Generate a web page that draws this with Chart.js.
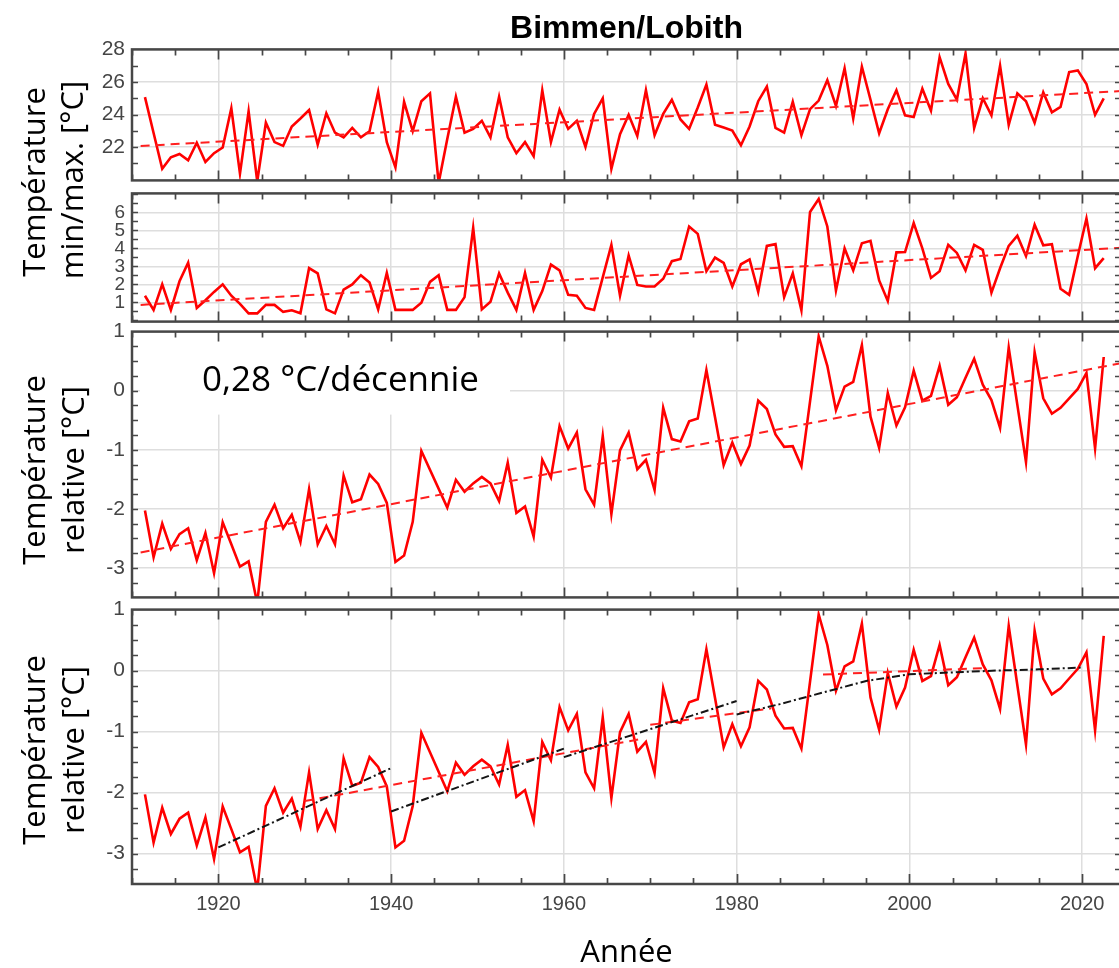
<!DOCTYPE html>
<html lang="fr">
<head>
<meta charset="utf-8">
<title>Bimmen/Lobith</title>
<script src="https://cdn.jsdelivr.net/npm/chart.js@4.4.1/dist/chart.umd.min.js"></script>
<style>
  html, body { margin: 0; padding: 0; background: #fff; overflow: hidden; }
  #wrap { position: relative; width: 1119px; height: 968px; overflow: hidden; }
  #wrap canvas { position: absolute; left: 0; }
  .ytitle { position: absolute; font-family: "Open Sans", sans-serif; font-size: 31px; color: #000;
            white-space: nowrap; line-height: 1; transform: translate(-50%, -50%) rotate(-90deg); }
  #slope { position: absolute; left: 202px; top: 360px; font-family: "Open Sans", sans-serif;
           font-size: 35px; color: #000; white-space: nowrap; line-height: 1; }
</style>
</head>
<body>
<div id="wrap">
  <canvas id="pMax" width="1130" height="200" style="top:0"></canvas>
  <canvas id="pMin" width="1130" height="165" style="top:175px"></canvas>
  <canvas id="pRel" width="1130" height="305" style="top:312px"></canvas>
  <canvas id="pSeg" width="1130" height="382" style="top:590px"></canvas>

  <div class="ytitle" style="left:33px; top:182px">Température</div>
  <div class="ytitle" style="left:71px; top:180px">min/max. [°C]</div>
  <div class="ytitle" style="left:33px; top:470px">Température</div>
  <div class="ytitle" style="left:72px; top:470px">relative [°C]</div>
  <div class="ytitle" style="left:33px; top:750px">Température</div>
  <div class="ytitle" style="left:72px; top:750px">relative [°C]</div>
  <div id="slope">0,28 °C/décennie</div>
</div>

<script>
// annual values 1911-2022
const firstYear = 1911;
const midYear = 0.5;

const tMax = [
  25.07, 22.87, 20.67, 21.38, 21.58, 21.19, 22.27, 21.09, 21.63, 21.98,
  24.39, 20.38, 24.2, 19.9, 23.5, 22.31, 22.08, 23.27, 23.76, 24.28,
  22.15, 24.08, 22.89, 22.6, 23.18, 22.6, 22.98, 25.4, 22.31, 20.76,
  24.78, 22.98, 24.82, 25.3, 19.8, 22.5, 25.1, 22.89, 23.12, 23.62,
  22.6, 25.1, 22.6, 21.63, 22.31, 21.44, 25.49, 22.31, 24.3, 23.12,
  23.62, 22.02, 24.04, 25.0, 20.67, 22.79, 23.99, 22.69, 25.49, 22.73,
  24.04, 24.91, 23.7, 23.12, 24.43, 25.84, 23.37, 23.2, 23.02, 22.12,
  23.27, 24.82, 25.72, 23.18, 22.89, 24.78, 22.73, 24.33, 24.86, 26.11,
  24.53, 26.84, 23.76, 26.94, 24.91, 22.85, 24.33, 25.49, 23.95, 23.85,
  25.59, 24.24, 27.52, 25.88, 24.91, 27.75, 23.18, 25.0, 23.95, 27.0,
  23.37, 25.3, 24.82, 23.5, 25.36, 24.14, 24.47, 26.61, 26.71, 25.88,
  23.99, 25.0
];

const tMin = [
  1.37, 0.58, 2.0, 0.58, 2.17, 3.2, 0.69, 1.12, 1.58, 2.0,
  1.37, 0.92, 0.39, 0.39, 0.86, 0.86, 0.47, 0.56, 0.39, 2.9,
  2.61, 0.61, 0.39, 1.71, 2.0, 2.51, 2.1, 0.61, 2.64, 0.58,
  0.58, 0.58, 0.98, 2.14, 2.51, 0.58, 0.58, 1.29, 5.15, 0.61,
  1.03, 2.61, 1.54, 0.58, 2.64, 0.58, 1.63, 3.1, 2.78, 1.42,
  1.37, 0.69, 0.58, 2.39, 4.2, 1.37, 3.61, 1.97, 1.88, 1.88,
  2.31, 3.29, 3.41, 5.22, 4.81, 2.73, 3.49, 3.2, 1.88, 3.12,
  3.39, 1.58, 4.14, 4.24, 1.29, 2.61, 0.56, 6.03, 6.75, 5.22,
  1.66, 4.0, 2.78, 4.29, 4.42, 2.22, 1.08, 3.78, 3.8, 5.41,
  4.0, 2.36, 2.73, 4.2, 3.75, 2.78, 4.2, 3.92, 1.54, 2.9,
  4.14, 4.71, 3.58, 5.32, 4.17, 4.24, 1.76, 1.42, 3.58, 5.66,
  2.9, 3.46
];

const tRel = [
  -2.03, -2.82, -2.25, -2.68, -2.43, -2.33, -2.87, -2.41, -3.09, -2.23,
  -2.6, -2.98, -2.89, -3.6, -2.22, -1.93, -2.33, -2.1, -2.56, -1.67,
  -2.6, -2.29, -2.6, -1.44, -1.89, -1.84, -1.42, -1.58, -1.9, -2.9,
  -2.79, -2.22, -1.02, null, null, -1.98, -1.51, -1.71, -1.57, -1.46,
  -1.57, -1.87, -1.22, -2.07, -1.96, -2.47, -1.17, -1.47, -0.6, -0.98,
  -0.71, -1.67, -1.93, -0.77, -2.09, -1.01, -0.71, -1.33, -1.17, -1.68,
  -0.29, -0.82, -0.86, -0.52, -0.47, 0.35, -0.45, -1.26, -0.88, -1.24,
  -0.93, -0.17, -0.31, -0.74, -0.95, -0.94, -1.28, -0.18, 0.92, 0.42,
  -0.33, 0.07, 0.15, 0.77, -0.44, -0.97, -0.04, -0.59, -0.28, 0.34,
  -0.17, -0.09, 0.42, -0.24, -0.11, 0.22, 0.54, 0.1, -0.16, -0.63,
  0.73, -0.24, -1.21, 0.65, -0.13, -0.39, -0.29, -0.13, 0.03, 0.3,
  -0.98, 0.57
];

// linear trends over the whole period
const trendYears = [1911, 2025];
const trendMax = [22.07, 25.46];
const trendMin = [0.86, 4.05];
const trendRel = [-2.74, 0.48];

// piecewise trends, lower panel
const blackSegments = [
  { years: [1920, 1940], values: [-2.9, -1.6] },
  { years: [1940, 1960], values: [-2.31, -1.28] },
  { years: [1960, 1980], values: [-1.42, -0.5] },
  { years: [1980, 1985, 1990, 1995, 2000, 2005, 2010, 2015, 2020],
    values: [-0.72, -0.55, -0.36, -0.17, -0.06, -0.03, 0.0, 0.02, 0.05] }
];
const redSegments = [
  { years: [1930, 1969], values: [-2.14, -1.12] },
  { years: [1970, 1984], values: [-0.89, -0.62] },
  { years: [1990, 2009], values: [-0.065, 0.043] }
];

const xTicks = [1920, 1940, 1960, 1980, 2000, 2020];
const xMinorStep = 5;
const maxTicks = [22, 24, 26, 28];
const minTicks = [1, 2, 3, 4, 5, 6];
const relTicks = [-3, -2, -1, 0, 1];

const years = tMax.map((_, i) => firstYear + i);
const toPoints = vals => vals.map((v, i) => ({ x: years[i] + midYear, y: v }));
const toLine = (xs, ys) => xs.map((x, i) => ({ x: x, y: ys[i] }));

const axisGrey = '#474747';
const labelGrey = '#454545';
const gridGrey = '#dedede';
const tickFont = '"Liberation Sans", Arial, sans-serif';

// MATLAB-like box with inward ticks
const frameTicks = {
  id: 'frameTicks',
  afterDraw(chart, args, opts) {
    const { ctx, chartArea: a } = chart;
    const x = chart.scales.x, y = chart.scales.y;
    ctx.save();
    ctx.strokeStyle = axisGrey;
    ctx.lineWidth = 1.7;
    ctx.beginPath();
    for (let v = Math.ceil(x.min / xMinorStep) * xMinorStep; v <= x.max; v += xMinorStep) {
      const px = Math.round(x.getPixelForValue(v)) + 0.5;
      const len = xTicks.includes(v) ? 10 : 6;
      ctx.moveTo(px, a.top); ctx.lineTo(px, a.top + len);
      ctx.moveTo(px, a.bottom); ctx.lineTo(px, a.bottom - len);
    }
    const start = Math.ceil(y.min / opts.step);
    const end = Math.floor(y.max / opts.step);
    for (let i = start; i <= end; i++) {
      const py = Math.round(y.getPixelForValue(i * opts.step)) + 0.5;
      if (py <= a.top + 1 || py >= a.bottom - 1) continue;
      ctx.moveTo(a.left, py); ctx.lineTo(a.left + 6, py);
      ctx.moveTo(a.right, py); ctx.lineTo(a.right - 6, py);
    }
    ctx.stroke();
    ctx.lineWidth = 2.5;
    ctx.strokeRect(a.left, a.top, a.right - a.left, a.bottom - a.top);
    ctx.restore();
  }
};

// white box behind the slope annotation
const noteMask = {
  id: 'noteMask',
  beforeDatasetsDraw(chart, args, opts) {
    if (!opts.on) return;
    const { ctx, chartArea: a } = chart;
    ctx.save();
    ctx.fillStyle = '#fff';
    ctx.fillRect(a.left + 8, a.top + 1, 370, 82);
    ctx.restore();
  }
};

function dataLine(vals) {
  return { data: toPoints(vals), borderColor: '#ff0000', borderWidth: 2.6, spanGaps: true, order: 3 };
}
function trendLine(xs, ys) {
  return { data: toLine(xs, ys), borderColor: '#ff1f1f', borderWidth: 2, borderDash: [9, 6], order: 2 };
}
function segLine(seg) {
  return { data: toLine(seg.years, seg.values), borderColor: '#151515', borderWidth: 2,
           borderDash: [8, 3, 2, 3], order: 1 };
}

function makePanel(id, cfg) {
  return new Chart(document.getElementById(id), {
    type: 'line',
    data: { datasets: cfg.datasets },
    options: {
      responsive: false,
      animation: false,
      devicePixelRatio: 1,
      layout: { padding: { left: 0, right: 9, top: cfg.padTop, bottom: cfg.padBottom } },
      elements: { point: { radius: 0 }, line: { tension: 0, borderCapStyle: 'butt' } },
      plugins: {
        legend: { display: false },
        tooltip: { enabled: false },
        title: cfg.title || { display: false },
        frameTicks: { step: cfg.yMinor },
        noteMask: { on: !!cfg.note }
      },
      scales: {
        x: {
          type: 'linear',
          min: 1910,
          max: 2024.5,
          afterBuildTicks: s => { s.ticks = xTicks.map(v => ({ value: v })); },
          afterFit: s => { s.height = cfg.xHeight; },
          grid: { color: gridGrey, lineWidth: 1.5, drawTicks: false },
          border: { display: false },
          ticks: {
            display: cfg.showX,
            autoSkip: false,
            maxRotation: 0,
            padding: 8,
            color: labelGrey,
            font: { family: tickFont, size: 20 },
            callback: v => String(v)
          },
          title: cfg.showX ? {
            display: true,
            text: 'Année',
            color: '#000',
            padding: { top: 0, bottom: 0 },
            font: { family: '"Open Sans", sans-serif', size: 31 }
          } : { display: false }
        },
        y: {
          type: 'linear',
          min: cfg.yMin,
          max: cfg.yMax,
          afterBuildTicks: s => { s.ticks = cfg.yTicks.map(v => ({ value: v })); },
          afterFit: s => { s.width = 132; },
          grid: { color: gridGrey, lineWidth: 1.5, drawTicks: false },
          border: { display: false },
          ticks: {
            autoSkip: false,
            padding: 7,
            color: labelGrey,
            font: { family: tickFont, size: cfg.yFont },
            callback: v => String(v)
          }
        }
      }
    },
    plugins: [noteMask, frameTicks]
  });
}

makePanel('pMax', {
  datasets: [trendLine(trendYears, trendMax), dataLine(tMax)],
  yMin: 19.96, yMax: 28, yTicks: maxTicks, yMinor: 1, yFont: 21,
  padTop: 0, padBottom: 11, xHeight: 0, showX: false,
  title: {
    display: true,
    text: 'Bimmen/Lobith',
    fullSize: false,
    color: '#000',
    padding: { top: 10, bottom: 1 },
    font: { family: tickFont, size: 32, weight: 'bold' }
  }
});

makePanel('pMin', {
  datasets: [trendLine(trendYears, trendMin), dataLine(tMin)],
  yMin: -0.07, yMax: 7.06, yTicks: minTicks, yMinor: 0.5, yFont: 19,
  padTop: 14, padBottom: 12, xHeight: 0, showX: false
});

makePanel('pRel', {
  datasets: [trendLine(trendYears, trendRel), dataLine(tRel)],
  yMin: -3.5, yMax: 1, yTicks: relTicks, yMinor: 0.25, yFont: 21,
  padTop: 16, padBottom: 12, xHeight: 0, showX: false, note: true
});

makePanel('pSeg', {
  datasets: [
    ...blackSegments.map(segLine),
    ...redSegments.map(s => trendLine(s.years, s.values)),
    dataLine(tRel)
  ],
  yMin: -3.5, yMax: 1, yTicks: relTicks, yMinor: 0.25, yFont: 21,
  padTop: 15, padBottom: 0, xHeight: 88, showX: true
});
</script>
</body>
</html>
